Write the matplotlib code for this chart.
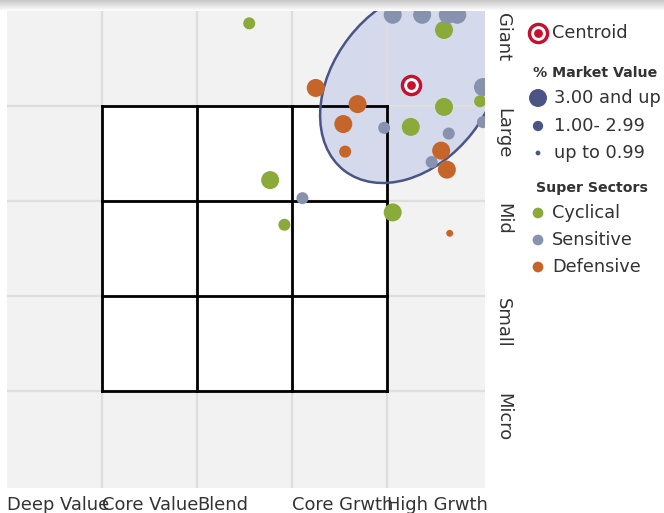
import numpy as np
from matplotlib import pyplot as plt
from matplotlib.patches import Ellipse, Rectangle
from matplotlib import transforms

# Ownership zone: x = style (0..5), y = size (0..5)
style_labels = ["Deep Value", "Core Value", "Blend", "Core Grwth", "High Grwth"]
size_labels = ["Giant", "Large", "Mid", "Small", "Micro"]

# size class: L = 3.00 and up, M = 1.00-2.99, S = up to 0.99
cyc_x = [2.55, 4.60, 4.98, 4.60, 4.25, 2.77, 2.92, 4.06]
cyc_y = [4.87, 4.80, 4.05, 3.99, 3.78, 3.22, 2.75, 2.88]
cyc_sz = ["M", "L", "M", "L", "L", "L", "M", "L"]

sen_x = [4.06, 4.37, 4.64, 4.74, 5.01, 3.97, 5.01, 4.65, 4.47, 3.11]
sen_y = [4.96, 4.96, 4.96, 4.96, 4.20, 3.77, 3.83, 3.71, 3.41, 3.03]
sen_sz = ["L", "L", "L", "L", "L", "M", "M", "M", "M", "M"]

def_x = [3.25, 3.69, 3.54, 3.56, 4.57, 4.63, 4.66]
def_y = [4.19, 4.02, 3.81, 3.52, 3.53, 3.33, 2.66]
def_sz = ["L", "L", "L", "M", "L", "L", "S"]

centroid = (4.25, 4.22)
zone_w, zone_h, zone_angle = 2.28, 1.64, 52

c_cyc = "#8aab3a"
c_sen = "#8793ae"
c_def = "#c6652a"
c_navy = "#4b5585"
c_red = "#c8102e"
sizes = {"L": 168, "M": 75, "S": 25}
leg_sizes = {"L": 168, "M": 55, "S": 12}

W, H = 664, 513
fig = plt.figure(figsize=(W / 100, H / 100), dpi=100)

# faint shadow bar at the top
sh = fig.add_axes([0, (H - 11) / H, 1, 11 / H])
grad = np.linspace(0.78, 1.0, 50).reshape(-1, 1)
sh.imshow(grad, aspect="auto", cmap="gray", vmin=0, vmax=1, extent=[0, 1, 0, 1])
sh.axis("off")

ax = fig.add_axes([7 / W, (H - 488) / H, 478 / W, 477 / H])
ax.set_facecolor("#f2f2f2")
ax.set_xlim(0, 478 / 95)
ax.set_ylim(5 - 477 / 95, 5)
for s in ax.spines.values():
    s.set_visible(False)
ax.set_xticks([])
ax.set_yticks([])

# 3x3 style box + ownership zone
ax.add_patch(Rectangle((1, 1), 3, 3, facecolor="white", edgecolor="none", zorder=2))
ax.add_patch(Ellipse(centroid, zone_w, zone_h, angle=zone_angle,
                     facecolor="#d5d9ec", edgecolor="none", zorder=3))
for v in range(1, 5):
    ax.axvline(v, color="#dedede", lw=1.6, zorder=3.5)
    ax.axhline(v, color="#dedede", lw=1.6, zorder=3.5)
for v in range(1, 5):
    ax.plot([v, v], [1, 4], color="black", lw=2, zorder=4, solid_capstyle="projecting")
    ax.plot([1, 4], [v, v], color="black", lw=2, zorder=4, solid_capstyle="projecting")
ax.add_patch(Ellipse(centroid, zone_w, zone_h, angle=zone_angle,
                     facecolor="none", edgecolor=c_navy, lw=1.8, zorder=5))

for xs, ys, ss, c in [(cyc_x, cyc_y, cyc_sz, c_cyc), (sen_x, sen_y, sen_sz, c_sen),
                      (def_x, def_y, def_sz, c_def)]:
    ax.scatter(xs, ys, s=[sizes[k] for k in ss], color=c, edgecolors="none", zorder=6)

ax.scatter(*centroid, s=210, color=c_red, zorder=7)
ax.scatter(*centroid, s=92, color="white", zorder=7)
ax.scatter(*centroid, s=28, color=c_red, zorder=7)

# axis labels
tc = "#333333"
bt = transforms.blended_transform_factory(ax.transData, fig.transFigure)
for i, lab in enumerate(style_labels):
    ax.text(i, (H - 510) / H, lab, transform=bt, ha="left", va="baseline",
            fontsize=12.9, color=tc)
rt = transforms.blended_transform_factory(fig.transFigure, ax.transData)
for i, lab in enumerate(size_labels):
    ax.text(503 / W, 5 - i - 0.02, lab, transform=rt, rotation=-90, ha="center",
            va="top", fontsize=12.9, color=tc)

# legend (drawn in pixel coordinates)
lg = fig.add_axes([0, 0, 1, 1], facecolor="none")
lg.set_xlim(0, W)
lg.set_ylim(H, 0)
lg.axis("off")
lg.scatter(538, 33, s=210, color=c_red)
lg.scatter(538, 33, s=92, color="white")
lg.scatter(538, 33, s=28, color=c_red)
lg.text(552, 33, "Centroid", va="center", ha="left", fontsize=12.8, color=tc)
lg.text(533, 73, "% Market Value", va="center", ha="left", fontsize=10.2,
        fontweight="bold", color=tc)
for y, k, lab in [(98, "L", "3.00 and up"), (126, "M", "1.00- 2.99"), (153, "S", "up to 0.99")]:
    lg.scatter(538, y, s=leg_sizes[k], color=c_navy, edgecolors="none")
    lg.text(554, y, lab, va="center", ha="left", fontsize=12.8, color=tc)
lg.text(536, 188, "Super Sectors", va="center", ha="left", fontsize=10.2,
        fontweight="bold", color=tc)
for y, c, lab in [(213, c_cyc, "Cyclical"), (240, c_sen, "Sensitive"), (267, c_def, "Defensive")]:
    lg.scatter(538, y, s=60, color=c, edgecolors="none")
    lg.text(552, y, lab, va="center", ha="left", fontsize=12.8, color=tc)

fig.savefig("out.png", dpi=100)
